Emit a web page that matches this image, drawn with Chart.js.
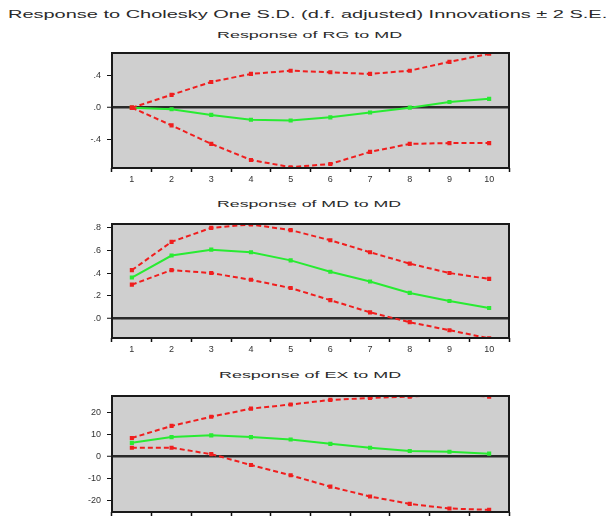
<!DOCTYPE html>
<html>
<head>
<meta charset="utf-8">
<script src="https://cdn.jsdelivr.net/npm/chart.js@4.4.1/dist/chart.umd.min.js"></script>
<style>
    html, body { margin: 0; padding: 0; background: #fff; }
    body { width: 609px; height: 517px; position: relative; overflow: hidden; }
    canvas { position: absolute; left: 0; }
    .title {
        position: absolute;
        white-space: nowrap;
        transform-origin: 0 0;
        font-family: "Liberation Sans", Arial, sans-serif;
        line-height: 1;
        color: #2a2a2a;
    }
</style>
</head>
<body>
<div class="title" id="mainTitle" style="font-size:11px;">Response to Cholesky One S.D. (d.f. adjusted) Innovations ± 2 S.E.</div>
<div class="title" id="sub1" style="font-size:9px;">Response of RG to MD</div>
<div class="title" id="sub2" style="font-size:9px;">Response of MD to MD</div>
<div class="title" id="sub3" style="font-size:9px;">Response of EX to MD</div>

<canvas id="rgChart" width="609" height="143" style="top:47px"></canvas>
<canvas id="mdChart" width="609" height="142" style="top:218px"></canvas>
<canvas id="exChart" width="609" height="144" style="top:390px"></canvas>

<script>
// periods after the shock
const periods = ["1", "2", "3", "4", "5", "6", "7", "8", "9", "10"];

// Response of RG to MD
const rgResp  = [0.00, -0.02, -0.09, -0.15, -0.16, -0.12, -0.06, 0.00, 0.07, 0.11];
const rgUpper = [0.00, 0.16, 0.32, 0.42, 0.46, 0.44, 0.42, 0.46, 0.57, 0.67];
const rgLower = [0.00, -0.22, -0.45, -0.65, -0.74, -0.70, -0.55, -0.45, -0.44, -0.44];
const rgTicks = [-0.4, 0.0, 0.4];

// Response of MD to MD
const mdResp  = [0.36, 0.555, 0.607, 0.584, 0.512, 0.411, 0.325, 0.224, 0.153, 0.09];
const mdUpper = [0.426, 0.676, 0.80, 0.83, 0.78, 0.69, 0.584, 0.483, 0.40, 0.348];
const mdLower = [0.297, 0.426, 0.40, 0.34, 0.267, 0.16, 0.052, -0.035, -0.106, -0.178];
const mdTicks = [0.0, 0.2, 0.4, 0.6, 0.8];

// Response of EX to MD
const exResp  = [6.25, 8.9, 9.7, 8.9, 7.8, 5.8, 4.0, 2.5, 2.2, 1.3];
const exUpper = [8.5, 14.0, 18.2, 21.9, 23.8, 25.9, 26.8, 27.4, 28.5, 27.4];
const exLower = [4.0, 4.0, 1.1, -3.9, -8.6, -13.8, -18.3, -21.7, -23.8, -24.4];
const exTicks = [-20, -10, 0, 10, 20];

function placeTitle(id, left, centerY, width) {
    let el = document.getElementById(id);
    let s = width / el.offsetWidth;
    el.style.left = left + "px";
    el.style.top = (centerY - el.offsetHeight / 2) + "px";
    el.style.transform = `scaleX(${s})`;
}

placeTitle("mainTitle", 8, 14, 599);
placeTitle("sub1", 217, 35, 185);
placeTitle("sub2", 217, 204, 185);
placeTitle("sub3", 219, 375, 183);

// eviews style labels: .4  .0  -.4
function evFormat(v, decimals) {
    if (decimals === 0)
        return String(Math.round(v));
    return v.toFixed(decimals).replace(/^(-?)0\./, "$1.");
}

const plotFrame = {
    id: "plotFrame",
    beforeDraw(chart) {
        const a = chart.chartArea;
        const c = chart.ctx;
        c.save();
        c.fillStyle = "#cfcfcf";
        c.fillRect(a.left, a.top, a.right - a.left, a.bottom - a.top);
        c.restore();
    },
    afterDraw(chart) {
        const a = chart.chartArea;
        const c = chart.ctx;
        c.save();
        c.strokeStyle = "#1a1a1a";
        c.lineWidth = 2;
        c.strokeRect(a.left, a.top, a.right - a.left, a.bottom - a.top);
        c.restore();
    }
};

function irfChart(id, yMin, yMax, yTicks, decimals, resp, upper, lower) {
    const bandStyle = {
        borderColor: "rgb(240, 30, 30)",
        backgroundColor: "rgb(240, 30, 30)",
        borderWidth: 2,
        borderDash: [5, 3],
        pointStyle: "rect",
        pointRadius: 1.5,
        fill: false,
        tension: 0,
        clip: 0
    };

    const data = {
        labels: periods,
        datasets: [
            Object.assign({ label: "+2 S.E.", data: upper }, bandStyle),
            Object.assign({ label: "-2 S.E.", data: lower }, bandStyle),
            {
                label: "Response",
                data: resp,
                borderColor: "rgb(40, 235, 50)",
                backgroundColor: "rgb(40, 235, 50)",
                borderWidth: 2,
                pointStyle: "rect",
                pointRadius: 1.5,
                fill: false,
                tension: 0,
                clip: 0
            }
        ]
    };

    const config = {
        type: "line",
        data: data,
        options: {
            responsive: false,
            animation: false,
            devicePixelRatio: 1,
            layout: { padding: { top: 3, right: 100, left: 0, bottom: 0 } },
            plugins: {
                legend: { display: false },
                tooltip: { enabled: false }
            },
            scales: {
                x: {
                    type: "category",
                    offset: true,
                    border: { display: false },
                    grid: {
                        offset: true,
                        drawOnChartArea: false,
                        drawTicks: true,
                        tickLength: 4,
                        tickColor: "#111",
                        tickWidth: 1.5
                    },
                    ticks: {
                        color: "#333",
                        padding: 2,
                        maxRotation: 0,
                        font: { family: "Liberation Sans", size: 9 }
                    },
                    afterFit(scale) {
                        scale.height = 22;
                        scale.paddingLeft = 0;
                        scale.paddingRight = 0;
                    }
                },
                y: {
                    type: "linear",
                    min: yMin,
                    max: yMax,
                    border: { display: false },
                    grid: {
                        drawTicks: true,
                        tickLength: 5,
                        tickColor: "#111",
                        tickWidth: 1,
                        color: (ctx) => (ctx.tick && ctx.tick.value === 0) ? "#2a2a2a" : "rgba(0,0,0,0)",
                        lineWidth: (ctx) => (ctx.tick && ctx.tick.value === 0) ? 2.5 : 1
                    },
                    afterBuildTicks(scale) {
                        scale.ticks = yTicks.map(v => ({ value: v }));
                    },
                    ticks: {
                        color: "#333",
                        padding: 6,
                        font: { family: "Liberation Sans", size: 9 },
                        callback: (v) => evFormat(v, decimals)
                    },
                    afterFit(scale) {
                        scale.width = 112;
                        scale.paddingTop = 0;
                        scale.paddingBottom = 0;
                    }
                }
            }
        },
        plugins: [plotFrame]
    };

    let ctx = document.getElementById(id).getContext("2d");
    new Chart(ctx, config);
}

irfChart("rgChart", -0.75, 0.68, rgTicks, 1, rgResp, rgUpper, rgLower);
irfChart("mdChart", -0.175, 0.834, mdTicks, 1, mdResp, mdUpper, mdLower);
irfChart("exChart", -25.4, 27.7, exTicks, 0, exResp, exUpper, exLower);
</script>
</body>
</html>
